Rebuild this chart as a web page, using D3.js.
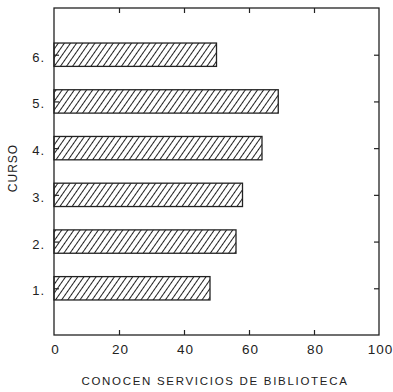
<!DOCTYPE html>
<html>
<head>
<meta charset="utf-8">
<script src="https://cdn.jsdelivr.net/npm/d3@7"></script>
<style>
  html, body { margin: 0; padding: 0; background: #fff; }
  svg { display: block; }
  text { font-family: "Liberation Sans", Arial, sans-serif; fill: #222; }
</style>
</head>
<body>
<svg id="chart" width="393" height="392"></svg>
<script>
// Courses and the share (%) that know the library services
const cursos = ["1.", "2.", "3.", "4.", "5.", "6."];
const valores = [48, 56, 58, 64, 69, 50];
const xTicks = [0, 20, 40, 60, 80, 100];
const yTicks = [1, 2, 3, 4, 5, 6];

const svg = d3.select("#chart");
const margin = { left: 54, right: 14, top: 8, bottom: 57 };
const W = 393, H = 392;
const x = d3.scaleLinear().domain([0, 100]).range([margin.left, W - margin.right]);
const y = d3.scaleLinear().domain([0, 7]).range([H - margin.bottom, margin.top]);

// Diagonal hatch fill
const defs = svg.append("defs");
defs.append("pattern")
  .attr("id", "hatch")
  .attr("patternUnits", "userSpaceOnUse")
  .attr("width", 5).attr("height", 10)
  .attr("patternTransform", "rotate(35)")
  .append("line")
  .attr("x1", 2.5).attr("y1", 0).attr("x2", 2.5).attr("y2", 10)
  .attr("stroke", "#222").attr("stroke-width", 1);

const barH = y(0) - y(0.5);

svg.append("g").selectAll("rect")
  .data(valores)
  .join("rect")
  .attr("x", x(0))
  .attr("y", (d, i) => y(i + 1) - barH / 2)
  .attr("width", d => x(d) - x(0))
  .attr("height", barH)
  .attr("fill", "url(#hatch)")
  .attr("stroke", "#222")
  .attr("stroke-width", 1.3);

// Frame
svg.append("rect")
  .attr("x", x(0)).attr("y", y(7))
  .attr("width", x(100) - x(0)).attr("height", y(0) - y(7))
  .attr("fill", "none").attr("stroke", "#222").attr("stroke-width", 1.3);

const tickLen = 5;
const styleAxis = g => {
  g.select(".domain").remove();
  g.selectAll(".tick line").attr("stroke", "#222").attr("stroke-width", 1.2);
  g.selectAll(".tick text").attr("font-family", "Liberation Sans, Arial, sans-serif")
    .attr("font-size", 13).attr("letter-spacing", 1).attr("fill", "#222");
};

// Bottom axis with labels, inward ticks
svg.append("g")
  .attr("transform", `translate(0,${y(0)})`)
  .call(d3.axisBottom(x).tickValues(xTicks).tickSize(-tickLen).tickPadding(9))
  .call(styleAxis)
  .call(g => g.selectAll(".tick line").filter(d => d === 0 || d === 100).remove())
  .call(g => g.selectAll(".tick text").attr("dx", 1).attr("font-size", 13.5));

// Top axis, ticks only
svg.append("g")
  .attr("transform", `translate(0,${y(7)})`)
  .call(d3.axisTop(x).tickValues(xTicks.slice(1, -1)).tickSize(-tickLen).tickFormat(""))
  .call(styleAxis);

// Left axis with category labels
svg.append("g")
  .attr("transform", `translate(${x(0)},0)`)
  .call(d3.axisLeft(y).tickValues(yTicks).tickSize(-tickLen).tickPadding(9)
    .tickFormat((d, i) => cursos[i]))
  .call(styleAxis)
  .call(g => g.selectAll(".tick text").attr("dy", "0.5em"));

// Right axis, ticks only
svg.append("g")
  .attr("transform", `translate(${x(100)},0)`)
  .call(d3.axisRight(y).tickValues(yTicks).tickSize(-tickLen).tickFormat(""))
  .call(styleAxis);

// Axis titles
svg.append("text")
  .attr("x", 215).attr("y", 385)
  .attr("text-anchor", "middle").attr("font-size", 11.5)
  .attr("letter-spacing", 1.7)
  .text("CONOCEN SERVICIOS DE BIBLIOTECA");

svg.append("text")
  .attr("transform", `translate(17,168) rotate(-90)`)
  .attr("text-anchor", "middle").attr("font-size", 12)
  .attr("letter-spacing", 1)
  .text("CURSO");
</script>
</body>
</html>
